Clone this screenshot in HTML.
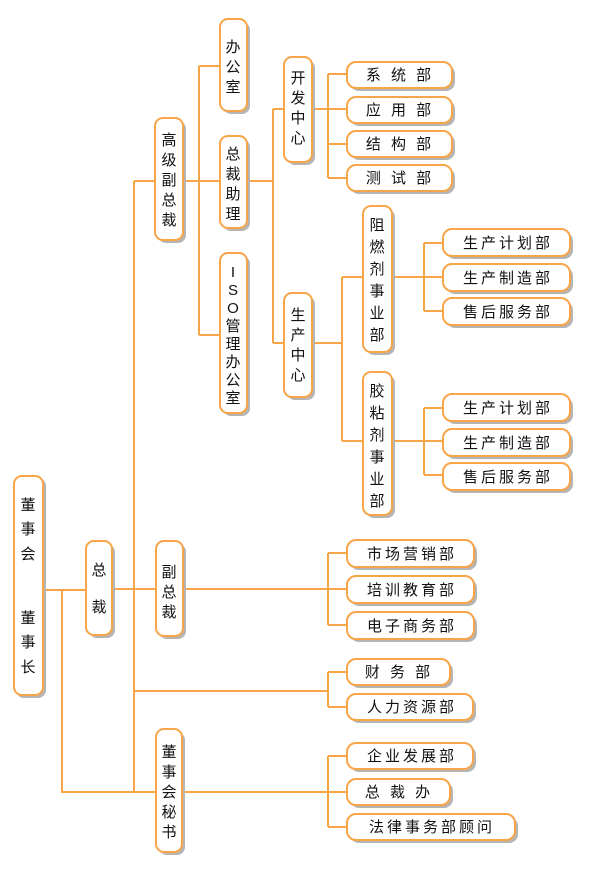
<!DOCTYPE html>
<html><head><meta charset="utf-8"><style>
html,body{margin:0;padding:0;background:#fff;}
svg{display:block;font-family:"Liberation Sans","Noto Sans CJK SC",sans-serif;}
.b{fill:#fff;stroke:#f8a548;stroke-width:2;}
.s{fill:#b5b5b5;}
.l{stroke:#f8a548;stroke-width:2;fill:none;}
text{font-size:15px;fill:#111;text-anchor:middle;}
.h{letter-spacing:3px;}
</style></head><body>
<svg width="614" height="895" viewBox="0 0 614 895" xmlns="http://www.w3.org/2000/svg">
<g class="l">
<path d="M43 590H86M62 590V792H156"/>
<path d="M112 589H156M134 181V792M134 691H328M134 792H156"/>
<path d="M134 181H156M183 181H220M199 66V335M199 66H220M199 335H220"/>
<path d="M247 181H273M273 109V343M273 109H284M273 343H284"/>
<path d="M312 109H328M328 74V178M328 74H347M328 109H347M328 144H347M328 178H347"/>
<path d="M312 343H342M342 277V441M342 277H363M342 441H363"/>
<path d="M392 277H424M424 243V311M424 243H443M424 277H443M424 311H443"/>
<path d="M392 441H424M424 408V475M424 408H443M424 441H443M424 475H443"/>
<path d="M183 589H347M328 553V625M328 553H347M328 625H347"/>
<path d="M328 672V707M328 672H347M328 707H347"/>
<path d="M182 792H347M328 756V827M328 756H347M328 827H347"/>
</g>
<g>
<rect class="s" x="16" y="478" width="30" height="220" rx="8"/><rect class="b" x="14" y="476" width="29" height="219" rx="8"/>
<rect class="s" x="89" y="544" width="26" height="94" rx="8"/><rect class="b" x="86" y="541" width="26" height="94" rx="8"/>
<rect class="s" x="158" y="121" width="28" height="122" rx="8"/><rect class="b" x="155" y="118" width="28" height="122" rx="8"/>
<rect class="s" x="159" y="544" width="27" height="95" rx="8"/><rect class="b" x="156" y="541" width="27" height="95" rx="8"/>
<rect class="s" x="159" y="732" width="26" height="123" rx="8"/><rect class="b" x="156" y="729" width="26" height="123" rx="8"/>
<rect class="s" x="223" y="22" width="27" height="92" rx="8"/><rect class="b" x="220" y="19" width="27" height="92" rx="8"/>
<rect class="s" x="223" y="139" width="27" height="92" rx="8"/><rect class="b" x="220" y="136" width="27" height="92" rx="8"/>
<rect class="s" x="223" y="256" width="27" height="160" rx="8"/><rect class="b" x="220" y="253" width="27" height="160" rx="8"/>
<rect class="s" x="287" y="60" width="28" height="105" rx="8"/><rect class="b" x="284" y="57" width="28" height="105" rx="8"/>
<rect class="s" x="287" y="296" width="28" height="104" rx="8"/><rect class="b" x="284" y="293" width="28" height="104" rx="8"/>
<rect class="s" x="366" y="209" width="29" height="146" rx="8"/><rect class="b" x="363" y="206" width="29" height="146" rx="8"/>
<rect class="s" x="366" y="375" width="29" height="143" rx="8"/><rect class="b" x="363" y="372" width="29" height="143" rx="8"/>
<rect class="s" x="350" y="65" width="105" height="26" rx="9"/><rect class="b" x="347" y="62" width="105" height="26" rx="9"/>
<rect class="s" x="350" y="100" width="105" height="26" rx="9"/><rect class="b" x="347" y="97" width="105" height="26" rx="9"/>
<rect class="s" x="350" y="134" width="105" height="26" rx="9"/><rect class="b" x="347" y="131" width="105" height="26" rx="9"/>
<rect class="s" x="350" y="168" width="105" height="26" rx="9"/><rect class="b" x="347" y="165" width="105" height="26" rx="9"/>
<rect class="s" x="446" y="232" width="127" height="27" rx="9"/><rect class="b" x="443" y="229" width="127" height="27" rx="9"/>
<rect class="s" x="446" y="267" width="127" height="27" rx="9"/><rect class="b" x="443" y="264" width="127" height="27" rx="9"/>
<rect class="s" x="446" y="301" width="127" height="27" rx="9"/><rect class="b" x="443" y="298" width="127" height="27" rx="9"/>
<rect class="s" x="446" y="397" width="127" height="27" rx="9"/><rect class="b" x="443" y="394" width="127" height="27" rx="9"/>
<rect class="s" x="446" y="432" width="127" height="27" rx="9"/><rect class="b" x="443" y="429" width="127" height="27" rx="9"/>
<rect class="s" x="446" y="466" width="127" height="27" rx="9"/><rect class="b" x="443" y="463" width="127" height="27" rx="9"/>
<rect class="s" x="350" y="543" width="127" height="27" rx="9"/><rect class="b" x="347" y="540" width="127" height="27" rx="9"/>
<rect class="s" x="350" y="579" width="127" height="27" rx="9"/><rect class="b" x="347" y="576" width="127" height="27" rx="9"/>
<rect class="s" x="350" y="615" width="127" height="27" rx="9"/><rect class="b" x="347" y="612" width="127" height="27" rx="9"/>
<rect class="s" x="350" y="662" width="103" height="26" rx="9"/><rect class="b" x="347" y="659" width="103" height="26" rx="9"/>
<rect class="s" x="350" y="697" width="126" height="26" rx="9"/><rect class="b" x="347" y="694" width="126" height="26" rx="9"/>
<rect class="s" x="350" y="746" width="126" height="26" rx="9"/><rect class="b" x="347" y="743" width="126" height="26" rx="9"/>
<rect class="s" x="350" y="782" width="103" height="26" rx="9"/><rect class="b" x="347" y="779" width="103" height="26" rx="9"/>
<rect class="s" x="350" y="817" width="168" height="26" rx="9"/><rect class="b" x="347" y="814" width="168" height="26" rx="9"/>
</g>
<g>
<text x="28" y="510">董</text><text x="28" y="534">事</text><text x="28" y="559">会</text>
<text x="28" y="623">董</text><text x="28" y="647">事</text><text x="28" y="672">长</text>
<text x="99" y="575">总</text><text x="99" y="612">裁</text>
<text x="169" y="577">副</text><text x="169" y="597">总</text><text x="169" y="617">裁</text>
<text x="169" y="145">高</text><text x="169" y="165">级</text><text x="169" y="185">副</text><text x="169" y="205">总</text><text x="169" y="225">裁</text>
<text x="169" y="757">董</text><text x="169" y="777">事</text><text x="169" y="797">会</text><text x="169" y="817">秘</text><text x="169" y="837">书</text>
<text x="233" y="52">办</text><text x="233" y="72">公</text><text x="233" y="92">室</text>
<text x="233" y="159">总</text><text x="233" y="179">裁</text><text x="233" y="199">助</text><text x="233" y="219">理</text>
<text x="233" y="277">I</text><text x="233" y="295">S</text><text x="233" y="313">O</text><text x="233" y="331">管</text><text x="233" y="349">理</text><text x="233" y="367">办</text><text x="233" y="385">公</text><text x="233" y="403">室</text>
<text x="298" y="83">开</text><text x="298" y="103">发</text><text x="298" y="123">中</text><text x="298" y="143">心</text>
<text x="298" y="320">生</text><text x="298" y="340">产</text><text x="298" y="360">中</text><text x="298" y="380">心</text>
<text x="377" y="230">阻</text><text x="377" y="252">燃</text><text x="377" y="274">剂</text><text x="377" y="296">事</text><text x="377" y="318">业</text><text x="377" y="340">部</text>
<text x="377" y="396">胶</text><text x="377" y="418">粘</text><text x="377" y="440">剂</text><text x="377" y="462">事</text><text x="377" y="484">业</text><text x="377" y="506">部</text>
</g>
<g class="h">
<text x="400" y="80">系 统 部</text>
<text x="400" y="115">应 用 部</text>
<text x="400" y="149">结 构 部</text>
<text x="400" y="183">测 试 部</text>
<text x="508" y="248">生产计划部</text>
<text x="508" y="283">生产制造部</text>
<text x="508" y="317">售后服务部</text>
<text x="508" y="413">生产计划部</text>
<text x="508" y="448">生产制造部</text>
<text x="508" y="482">售后服务部</text>
<text x="412" y="559">市场营销部</text>
<text x="412" y="595">培训教育部</text>
<text x="412" y="631">电子商务部</text>
<text x="399" y="677">财 务 部</text>
<text x="412" y="712">人力资源部</text>
<text x="412" y="761">企业发展部</text>
<text x="399" y="797">总 裁 办</text>
<text x="432" y="832">法律事务部顾问</text>
</g>
</svg>
</body></html>
